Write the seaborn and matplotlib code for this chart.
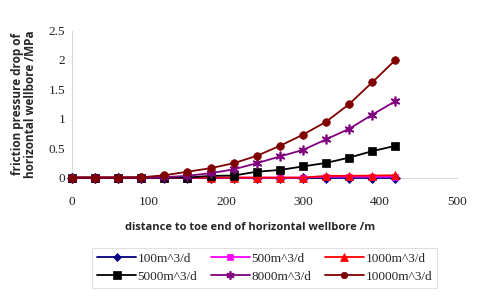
import matplotlib
matplotlib.use("Agg")
import matplotlib.pyplot as plt
import seaborn as sns
import pandas as pd

distance = [0, 30, 60, 90, 120, 150, 180, 210, 240, 270, 300, 330, 360, 390, 420]
q100 = [0, 0, 0, 0, 0, 0, 0, 0, 0, 0, 0, 0, 0, 0, 0]
q500 = [0, 0, 0, 0, 0, 0, 0, 0, 0, 0, 0, 0.015, 0.015, 0.015, 0.015]
q1000 = [0, 0, 0, 0, 0, 0, 0, 0, 0, 0, 0, 0.03, 0.03, 0.035, 0.04]
q5000 = [0, 0, 0, 0, 0, 0, 0.03, 0.035, 0.10, 0.13, 0.19, 0.25, 0.34, 0.45, 0.54]
q8000 = [0, 0, 0, 0, 0.007, 0.03, 0.075, 0.14, 0.245, 0.36, 0.47, 0.65, 0.83, 1.07, 1.30]
q10000 = [0, 0, 0, 0.005, 0.04, 0.10, 0.16, 0.245, 0.37, 0.54, 0.73, 0.95, 1.25, 1.62, 2.00]
labels = ["100m^3/d", "500m^3/d", "1000m^3/d", "5000m^3/d", "8000m^3/d", "10000m^3/d"]
x_ticks = [0, 100, 200, 300, 400, 500]
y_ticks = [0, 0.5, 1, 1.5, 2, 2.5]
y_tick_labels = ["0", "0.5", "1", "1.5", "2", "2.5"]

series = [q100, q500, q1000, q5000, q8000, q10000]
colors = ["#000080", "#ff00ff", "#ff0000", "#000000", "#800080", "#800000"]
markers = ["D", "s", "^", "s", (6, 2, 0), "o"]
msizes = [5, 5, 6, 6, 7, 5.5]

sns.set_theme(style="white")
plt.rcParams["font.family"] = ["Liberation Serif", "DejaVu Serif"]

fig = plt.figure(figsize=(4.8, 2.97), dpi=100)
ax = fig.add_axes([0.15, 0.402, 0.802, 0.495])

handles = {}
for lab, vals, c, m, ms in zip(labels, series, colors, markers, msizes):
    df = pd.DataFrame({"x": distance, "y": vals})
    sns.lineplot(data=df, x="x", y="y", ax=ax, color=c, marker=m, markersize=ms,
                 markeredgecolor=c, markeredgewidth=1.2 if m == (6, 2, 0) else 0.5,
                 linewidth=1.3, clip_on=False, label=lab, legend=False)
    handles[lab] = ax.lines[-1]

ax.set_xlim(0, 500)
ax.set_ylim(0, 2.5)
ax.set_xticks(x_ticks)
ax.set_xticklabels([str(t) for t in x_ticks], fontsize=9.5)
ax.set_yticks(y_ticks)
ax.set_yticklabels(y_tick_labels, fontsize=9.5)
ax.tick_params(axis="both", length=0, pad=5, colors="#222222")
ax.tick_params(axis="x", pad=13)
for s in ["top", "right"]:
    ax.spines[s].set_visible(False)
for s in ["left", "bottom"]:
    ax.spines[s].set_color("#d9d9d9")
    ax.spines[s].set_linewidth(0.8)
ax.spines["left"].set_zorder(0)
ax.spines["bottom"].set_zorder(0)

ax.set_ylabel("friction pressure drop of\nhorizontal wellbore /MPa", fontsize=8.5,
              fontweight="bold", family="Open Sans", labelpad=8, linespacing=1.0)
ax.set_xlabel("distance to toe end of horizontal wellbore /m", fontsize=8,
              fontweight="bold", family="Open Sans")
ax.xaxis.set_label_coords(0.462, -0.342)
ax.xaxis.label.set_va("center")

order = [labels[i] for i in [0, 3, 1, 4, 2, 5]]
leg = fig.legend([handles[l] for l in order], order, ncol=3, loc="center",
                 bbox_to_anchor=(0.551, 0.098), fontsize=9.5, frameon=True,
                 fancybox=False, edgecolor="#d9d9d9", handlelength=3.0,
                 columnspacing=1.0, handletextpad=0.1, borderpad=0.35,
                 labelspacing=0.45, markerscale=0.85)
leg.get_frame().set_linewidth(0.8)

fig.savefig("out.png", dpi=100)
